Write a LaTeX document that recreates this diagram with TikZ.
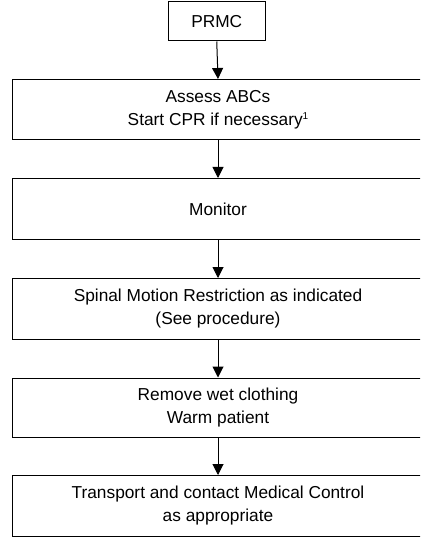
\documentclass[tikz,border=0pt]{standalone}
\usepackage{fontspec}
\setmainfont{Liberation Sans}
\usetikzlibrary{arrows.meta}
\begin{document}
\begin{tikzpicture}[x=1pt,y=1pt,
  box/.style={draw=black, line width=1pt, rectangle, inner sep=0pt, align=center,
    font=\fontsize{17.3}{23}\selectfont},
  wide/.style={box, minimum width=412pt},
  arr/.style={draw=black, line width=1pt, -{Triangle[width=11pt,length=11pt]}}]
\clip (0,0) rectangle (420,-537);
\useasboundingbox (0,0) rectangle (420,-537);
\fill[white] (0,0) rectangle (420,-537);
\node[box, minimum width=97.5pt, minimum height=39pt] (prmc) at (216.75,-21.5) {PRMC};
\node[wide, minimum height=60.5pt] (abc) at (218,-109.75) {Assess ABCs\\Start CPR if necessary\raisebox{6pt}{\fontsize{10}{10}\selectfont 1}};
\node[wide, minimum height=61pt] (mon) at (218,-209) {Monitor};
\node[wide, minimum height=60.5pt] (smr) at (218,-308.75) {Spinal Motion Restriction as indicated\\(See procedure)};
\node[wide, minimum height=59pt] (warm) at (218,-407.5) {Remove wet clothing\\Warm patient};
\node[wide, minimum height=60.5pt] (trans) at (218,-505.75) {Transport and contact Medical Control\\as appropriate};
\draw[arr] (prmc.south) -- (abc.north);
\draw[arr] (abc.south) -- (mon.north);
\draw[arr] (mon.south) -- (smr.north);
\draw[arr] (smr.south) -- (warm.north);
\draw[arr] (warm.south) -- (trans.north);
\end{tikzpicture}
\end{document}
